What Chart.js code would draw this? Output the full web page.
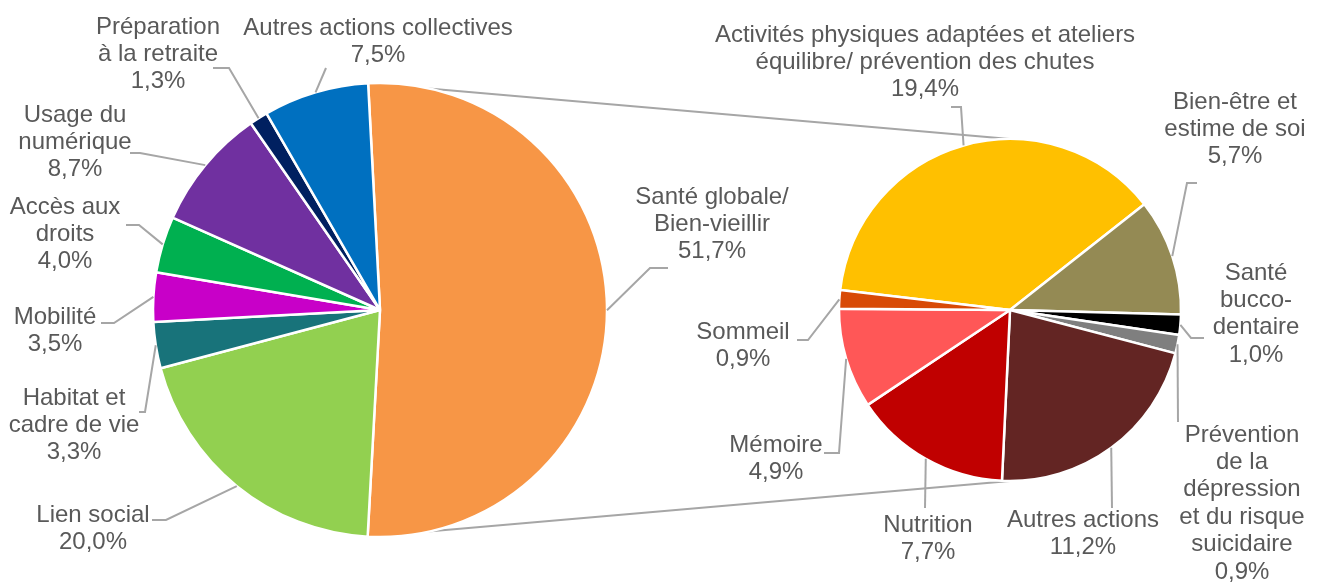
<!DOCTYPE html>
<html>
<head>
<meta charset="utf-8">
<title>Actions collectives - thématiques</title>
<script src="https://cdn.jsdelivr.net/npm/chart.js@4.4.1/dist/chart.umd.min.js"></script>
<style>
  body { margin: 0; background: #fff; }
  #wrap { position: relative; width: 1321px; height: 583px; }
  #wrap canvas { position: absolute; left: 0; top: 0; }
</style>
</head>
<body>
<div id="wrap">
  <canvas id="liens" width="1321" height="583"></canvas>
  <canvas id="pieLeft" width="1321" height="583"></canvas>
  <canvas id="pieRight" width="1321" height="583"></canvas>
</div>

<script>
// camembert principal
var leftLabels = [
  ['Santé globale/', 'Bien-vieillir'],
  ['Lien social'],
  ['Habitat et', 'cadre de vie'],
  ['Mobilité'],
  ['Accès aux', 'droits'],
  ['Usage du', 'numérique'],
  ['Préparation', 'à la retraite'],
  ['Autres actions collectives']
];
var leftValues = [51.7, 20.0, 3.3, 3.5, 4.0, 8.7, 1.3, 7.5];
var leftColors = ['#f79646', '#92d050', '#18737a', '#c800c8', '#00b050', '#7030a0', '#002060', '#0070c0'];

// détail de "Santé globale/Bien-vieillir"
var rightLabels = [
  ['Activités physiques adaptées et ateliers', 'équilibre/ prévention des chutes'],
  ['Bien-être et', 'estime de soi'],
  ['Santé', 'bucco-', 'dentaire'],
  ['Prévention', 'de la', 'dépression', 'et du risque', 'suicidaire'],
  ['Autres actions'],
  ['Nutrition'],
  ['Mémoire'],
  ['Sommeil']
];
var rightValues = [19.4, 5.7, 1.0, 0.9, 11.2, 7.7, 4.9, 0.9];
var rightColors = ['#ffc000', '#948a54', '#000000', '#7f7f7f', '#632523', '#c00000', '#ff5757', '#d84a06'];

// placement des étiquettes : centre du texte, y de la 1re ligne, points du trait de rappel
var leftPlacement = [
  { x: 712, y: 197, leader: [[668, 268], [650, 268]] },
  { x: 93,  y: 515, leader: [[152, 520], [166, 520]] },
  { x: 74,  y: 398, leader: [[139, 412], [145, 412]] },
  { x: 55,  y: 317, leader: [[101, 323], [114, 323]] },
  { x: 65,  y: 207, leader: [[126, 225], [139, 225]] },
  { x: 75,  y: 115, leader: [[130, 153], [140, 153]] },
  { x: 158, y: 27,  leader: [[213, 68], [229, 68]] },
  { x: 378, y: 28,  leader: [[326, 68]] }
];
var rightPlacement = [
  { x: 925,  y: 35,  leader: [[951, 107], [961, 107]] },
  { x: 1235, y: 102, leader: [[1197, 183], [1187, 183]] },
  { x: 1256, y: 273, leader: [[1204, 338], [1191, 338]] },
  { x: 1242, y: 435, leader: [[1178, 422]] },
  { x: 1083, y: 520, leader: [[1112, 508]] },
  { x: 928,  y: 525, leader: [[925, 508]] },
  { x: 776,  y: 445, leader: [[824, 453], [839, 453]] },
  { x: 743,  y: 332, leader: [[797, 340], [808, 340]] }
];

var FONT = '24px "Liberation Sans", Arial, sans-serif';
var TEXT_COLOR = '#595959';
var LINE_COLOR = '#a6a6a6';
var LINE_H = 27.4;

function pct(v) {
  return v.toFixed(1).replace('.', ',') + '%';
}

function makeLabelPlugin(placement) {
  return {
    id: 'etiquettes',
    afterDraw: function(chart) {
      var ctx = chart.ctx;
      var arcs = chart.getDatasetMeta(0).data;
      var values = chart.data.datasets[0].data;
      ctx.save();
      ctx.font = FONT;
      ctx.fillStyle = TEXT_COLOR;
      ctx.textAlign = 'center';
      ctx.textBaseline = 'middle';
      ctx.strokeStyle = LINE_COLOR;
      ctx.lineWidth = 2;
      arcs.forEach(function(arc, i) {
        var p = arc.getProps(['x', 'y', 'startAngle', 'endAngle', 'outerRadius'], true);
        var mid = (p.startAngle + p.endAngle) / 2;
        var pl = placement[i];
        ctx.beginPath();
        ctx.moveTo(pl.leader[0][0], pl.leader[0][1]);
        for (var k = 1; k < pl.leader.length; k++) {
          ctx.lineTo(pl.leader[k][0], pl.leader[k][1]);
        }
        ctx.lineTo(p.x + Math.cos(mid) * p.outerRadius, p.y + Math.sin(mid) * p.outerRadius);
        ctx.stroke();
        var lines = chart.data.labels[i].concat([pct(values[i])]);
        lines.forEach(function(t, j) {
          ctx.fillText(t, pl.x, pl.y + j * LINE_H);
        });
      });
      ctx.restore();
    }
  };
}

function pieOptions(rotation, radius, padding) {
  return {
    responsive: false,
    animation: false,
    rotation: rotation,
    radius: radius,
    layout: { padding: padding },
    events: [],
    plugins: {
      legend: { display: false },
      tooltip: { enabled: false }
    }
  };
}

var leftChart = new Chart(document.getElementById('pieLeft').getContext('2d'), {
  type: 'pie',
  data: {
    labels: leftLabels,
    datasets: [{
      data: leftValues,
      backgroundColor: leftColors,
      borderColor: '#ffffff',
      borderWidth: 2.5
    }]
  },
  options: pieOptions(-3, 227, { left: 150, right: 711, top: 80, bottom: 43 }),
  plugins: [makeLabelPlugin(leftPlacement)]
});

var rightChart = new Chart(document.getElementById('pieRight').getContext('2d'), {
  type: 'pie',
  data: {
    labels: rightLabels,
    datasets: [{
      data: rightValues,
      backgroundColor: rightColors,
      borderColor: '#ffffff',
      borderWidth: 2.5
    }]
  },
  options: pieOptions(-83.3, 171, { left: 830, right: 131, top: 130, bottom: 93 }),
  plugins: [makeLabelPlugin(rightPlacement)]
});

// traits reliant la part "Santé globale" au second camembert
(function() {
  var ctx = document.getElementById('liens').getContext('2d');
  var a = leftChart.getDatasetMeta(0).data[0].getProps(['x', 'y', 'startAngle', 'endAngle', 'outerRadius'], true);
  var b = rightChart.getDatasetMeta(0).data[0].getProps(['x', 'y', 'outerRadius'], true);
  ctx.strokeStyle = LINE_COLOR;
  ctx.lineWidth = 2;
  ctx.beginPath();
  ctx.moveTo(a.x + Math.cos(a.startAngle) * a.outerRadius, a.y + Math.sin(a.startAngle) * a.outerRadius);
  ctx.lineTo(b.x, b.y - b.outerRadius);
  ctx.moveTo(a.x + Math.cos(a.endAngle) * a.outerRadius, a.y + Math.sin(a.endAngle) * a.outerRadius);
  ctx.lineTo(b.x, b.y + b.outerRadius);
  ctx.stroke();
})();
</script>
</body>
</html>
